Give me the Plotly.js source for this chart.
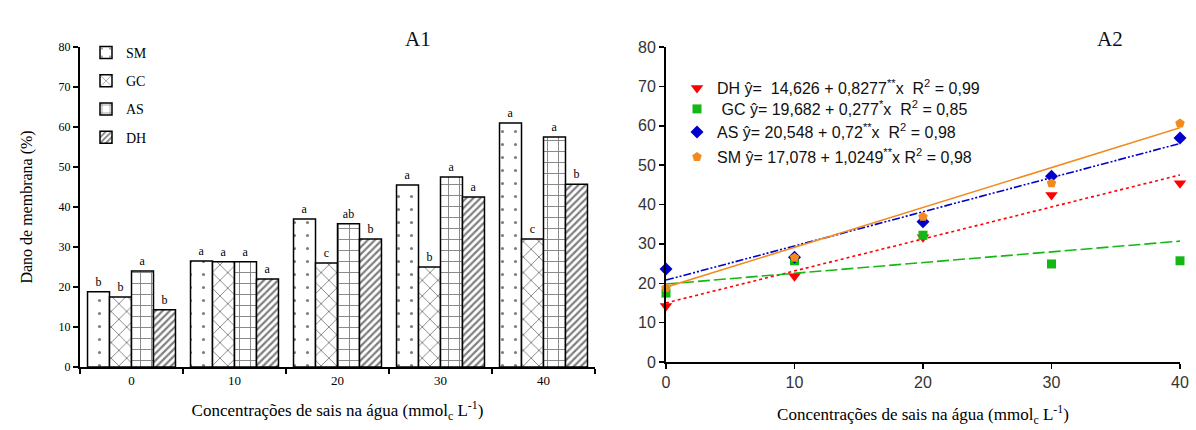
<!DOCTYPE html>
<html>
<head>
<meta charset="utf-8">
<script src="https://cdn.plot.ly/plotly-3.0.1.min.js"></script>
<style>html,body{margin:0;padding:0;background:#fff;}#chart{width:1196px;height:430px;}</style>
</head>
<body>
<div id="chart"></div>
<script>
// ---- A1 (bars) ----
const categories = ['0', '10', '20', '30', '40'];
const smBar = [18.8, 26.5, 37.0, 45.5, 61.0];
const gcBar = [17.5, 26.3, 26.0, 25.0, 32.0];
const asBar = [24.0, 26.3, 35.8, 47.5, 57.5];
const dhBar = [14.3, 22.0, 32.0, 42.5, 45.7];
const smLetters = ['b', 'a', 'a', 'a', 'a'];
const gcLetters = ['b', 'a', 'c', 'b', 'c'];
const asLetters = ['a', 'a', 'ab', 'a', 'a'];
const dhLetters = ['b', 'a', 'b', 'a', 'b'];

// ---- A2 (points + fitted lines) ----
const conc = [0, 10, 20, 30, 40];
const dhPts = [14.2, 21.8, 31.7, 42.4, 45.4];
const gcPts = [17.5, 25.7, 32.2, 24.9, 25.7];
const asPts = [23.6, 26.6, 35.6, 47.2, 56.9];
const smPts = [18.8, 26.5, 36.9, 45.4, 60.6];
const fitX = [0, 40];
const dhFit = [15.0, 47.5];
const gcFit = [19.8, 30.7];
const asFit = [20.8, 55.5];
const smFit = [19.0, 59.5];

const dhLabel = 'DH ŷ=  14,626 + 0,8277<sup>**</sup>x  R<sup>2</sup> = 0,99';
const gcLabel = ' GC ŷ= 19,682 + 0,277<sup>*</sup>x  R<sup>2</sup> = 0,85';
const asLabel = 'AS ŷ= 20,548 + 0,72<sup>**</sup>x  R<sup>2</sup> = 0,98';
const smLabel = 'SM ŷ= 17,078 + 1,0249<sup>**</sup>x R<sup>2</sup> = 0,98';

const serif = 'Liberation Serif, Times New Roman, serif';
const sans = 'Liberation Sans, Arial, sans-serif';

function barTrace(name, y, letters, shape, size, solidity) {
  return {
    type: 'bar', name: name, x: categories, y: y, xaxis: 'x', yaxis: 'y',
    text: letters, textposition: 'outside', cliponaxis: false,
    textfont: {family: serif, size: 12, color: '#000'},
    marker: {color: '#fff', line: {color: '#000', width: 1.5},
      pattern: {shape: shape, size: size, solidity: solidity, fgcolor: '#000', bgcolor: '#fff', fillmode: 'overlay'}},
    legend: 'legend', legendgroup: name, hoverinfo: 'skip'
  };
}

function ptTrace(name, y, color, symbol, msize, legendId) {
  return {
    type: 'scatter', mode: 'markers', name: name, x: conc, y: y, xaxis: 'x2', yaxis: 'y2',
    marker: {color: color, symbol: symbol, size: msize}, cliponaxis: false,
    legend: legendId
  };
}
function fitTrace(y, color, dash) {
  return {
    type: 'scatter', mode: 'lines', x: fitX, y: y, xaxis: 'x2', yaxis: 'y2',
    line: {color: color, dash: dash, width: 1.6}, showlegend: false, hoverinfo: 'skip'
  };
}

const red = '#ff0000', green = '#14b814', blue = '#0000cc', orange = '#f28a1e';

const data = [
  barTrace('SM', smBar, smLetters, '.', 13, 0.045),
  barTrace('GC', gcBar, gcLetters, 'x', 11, 0.16),
  barTrace('AS', asBar, asLetters, '+', 11, 0.16),
  barTrace('DH', dhBar, dhLetters, '/', 5, 0.45),
  fitTrace(dhFit, red, 'dot'),
  fitTrace(gcFit, green, '12px,4px'),
  fitTrace(asFit, blue, '8px,2px,2px,2px,2px,2px'),
  fitTrace(smFit, orange, 'solid'),
  ptTrace(dhLabel, dhPts, red, 'triangle-down', 11, 'legend2'),
  ptTrace(gcLabel, gcPts, green, 'square', 9, 'legend3'),
  ptTrace(asLabel, asPts, blue, 'diamond', 10, 'legend4'),
  ptTrace(smLabel, smPts, orange, 'pentagon', 10, 'legend5')
];

const xTitle = 'Concentrações de sais na água (mmol<sub>c</sub> L<sup>-1</sup>)';

function rowLegend(yPix) {
  return {
    x: 677/1196, y: (430 - yPix)/430, xanchor: 'left', yanchor: 'middle',
    bgcolor: 'rgba(0,0,0,0)', font: {family: sans, size: 16, color: '#111'}, itemwidth: 30
  };
}

const layout = {
  width: 1196, height: 430,
  margin: {l: 0, r: 0, t: 0, b: 0},
  paper_bgcolor: '#fff', plot_bgcolor: '#fff',
  barmode: 'group', bargap: 0.146, bargroupgap: 0,
  showlegend: true,
  xaxis: {
    domain: [80/1196, 595/1196], anchor: 'y', type: 'category', range: [-0.5, 4.5],
    showline: true, linecolor: '#000', linewidth: 2, showgrid: false, zeroline: false,
    ticks: 'outside', tickson: 'boundaries', ticklen: 5, tickcolor: '#000', tickwidth: 1.5,
    tickfont: {family: serif, size: 13, color: '#000'},
    title: {text: xTitle, font: {family: serif, size: 17, color: '#000'}, standoff: 18},
    automargin: false
  },
  yaxis: {
    domain: [(430-367)/430, (430-47)/430], anchor: 'x', range: [0, 80], dtick: 10,
    showline: true, linecolor: '#000', linewidth: 2, showgrid: false, zeroline: false,
    ticks: 'outside', ticklen: 5, tickcolor: '#000', tickwidth: 1.5,
    tickfont: {family: serif, size: 12, color: '#000'},
    title: {text: 'Dano de membrana (%)', font: {family: serif, size: 16, color: '#000'}, standoff: 22},
    automargin: false
  },
  xaxis2: {
    domain: [666/1196, 1180/1196], anchor: 'y2', range: [0, 40], dtick: 10,
    showline: true, linecolor: '#000', linewidth: 2, showgrid: false, zeroline: false,
    ticks: 'outside', ticklen: 5, tickcolor: '#000', tickwidth: 1.5,
    tickfont: {family: sans, size: 16, color: '#333'},
    title: {text: xTitle, font: {family: serif, size: 17, color: '#000'}, standoff: 18},
    automargin: false
  },
  yaxis2: {
    domain: [(430-362)/430, (430-47)/430], anchor: 'x2', range: [0, 80], dtick: 10,
    showline: true, linecolor: '#000', linewidth: 2, showgrid: false, zeroline: false,
    ticks: 'outside', ticklen: 5, tickcolor: '#000', tickwidth: 1.5,
    tickfont: {family: sans, size: 16, color: '#333'},
    automargin: false
  },
  legend: {
    x: 86/1196, y: (430-37)/430, xanchor: 'left', yanchor: 'top',
    bgcolor: 'rgba(0,0,0,0)', font: {family: serif, size: 14, color: '#000'},
    traceorder: 'grouped', tracegroupgap: 7, itemwidth: 30
  },
  legend2: rowLegend(88),
  legend3: rowLegend(109),
  legend4: rowLegend(132),
  legend5: rowLegend(157),
  annotations: [
    {text: 'A1', x: 418/1196, y: (430-25)/430, xref: 'paper', yref: 'paper', showarrow: false,
     font: {family: serif, size: 21, color: '#111'}},
    {text: 'A2', x: 1125/1196, y: (430-25)/430, xref: 'paper', yref: 'paper', showarrow: false,
     font: {family: serif, size: 21, color: '#111'}}
  ]
};

Plotly.newPlot('chart', data, layout, {displayModeBar: false, staticPlot: true});
</script>
</body>
</html>
